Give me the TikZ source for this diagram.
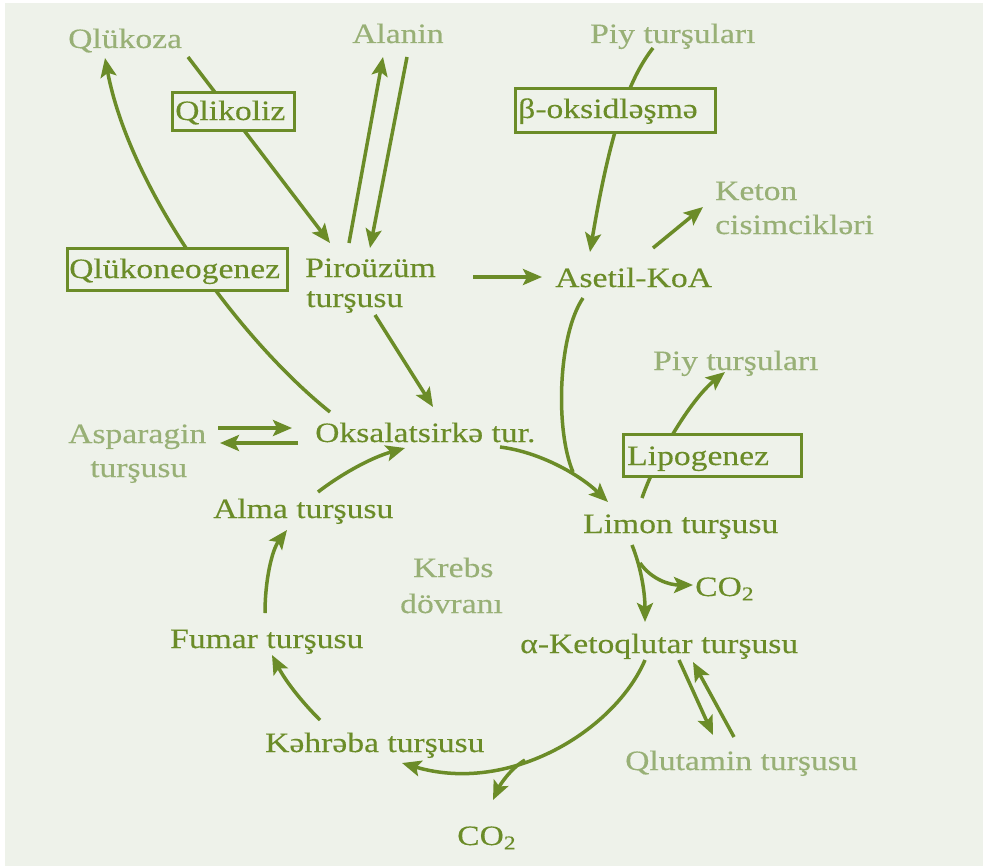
\documentclass[tikz,border=0pt]{standalone}
\usepackage{fontspec}
\setmainfont{Liberation Serif}[FakeStretch=1.2,FakeBold=0.3]
\usetikzlibrary{arrows.meta,fit}
\definecolor{bgc}{RGB}{238,242,234}
\definecolor{dk}{RGB}{107,140,40}
\definecolor{lt}{RGB}{152,176,118}
\tikzset{
 lbl/.style={anchor=base west, inner sep=0pt, font=\fontsize{28}{32}\selectfont},
 dtxt/.style={lbl, text=dk},
 ltxt/.style={lbl, text=lt},
 boxframe/.style={draw=dk, line width=3pt, fill=bgc, inner sep=0pt},
 arr/.style={draw=dk, line width=3.5pt, -{Stealth[length=19pt,width=16pt,inset=4pt]}},
 ln/.style={draw=dk, line width=3.5pt},
}
\begin{document}
\begin{tikzpicture}[x=1pt,y=-1pt]
\useasboundingbox (0,0) rectangle (990,867);
\fill[white] (0,0) rectangle (990,867);
\fill[bgc] (5,3) rectangle (983,866);

% light labels
\node[ltxt] (gluk) at (68,48) {Qlükoza};
\node[ltxt] (alan) at (352,43) {Alanin};
\node[ltxt] (piy1) at (590,43) {Piy turşuları};
\node[ltxt] (keton1) at (715,200) {Keton};
\node[ltxt] (keton2) at (715,234) {cisimcikləri};
\node[ltxt] (piy2) at (653,370) {Piy turşuları};
\node[ltxt] (asp1) at (68,443) {Asparagin};
\node[ltxt] (asp2) at (90,477) {turşusu};
\node[ltxt] (krebs1) at (413,577) {Krebs};
\node[ltxt] (krebs2) at (400,613) {dövranı};
\node[ltxt] (qlut) at (625,770) {Qlutamin turşusu};

% dark labels
\node[dtxt] (piro1) at (305,277) {Piroüzüm};
\node[dtxt] (piro2) at (306,307) {turşusu};
\node[dtxt] (asetil) at (555,287) {Asetil-KoA};
\node[dtxt] (oksa) at (315,442) {Oksalatsirkə tur.};
\node[dtxt] (limon) at (583,533) {Limon turşusu};
\node[dtxt] (co2a) at (695,596) {CO\textsubscript{2}};
\node[dtxt] (keto) at (520,653) {α-Ketoqlutar turşusu};
\node[dtxt] (alma) at (213,518) {Alma turşusu};
\node[dtxt] (fumar) at (170,648) {Fumar turşusu};
\node[dtxt] (kehr) at (265,752) {Kəhrəba turşusu};
\node[dtxt] (co2b) at (457,845) {CO\textsubscript{2}};

% connectors
\draw[arr] ([shift={(120,9)}]gluk.base west) -- ([shift={(25,-34)}]piro1.base west);
\draw[arr] ([shift={(15,-30)}]oksa.base west) .. controls +(-90,-72) and +(25,132) .. ([shift={(37,10)}]gluk.base west);
\draw[arr] ([shift={(44,-34)}]piro1.base west) -- ([shift={(31,14)}]alan.base west);
\draw[arr] ([shift={(55,14)}]alan.base west) -- ([shift={(65,-29)}]piro1.base west);
\draw[arr] ([shift={(168,0)}]piro1.base west) -- ([shift={(-13,-10)}]asetil.base west);
\draw[arr] ([shift={(63,5)}]piy1.base west) .. controls +(-21,27) and +(22,-132) .. ([shift={(35,-35)}]asetil.base west);
\draw[arr] ([shift={(98,-39)}]asetil.base west) -- ([shift={(-12,7)}]keton1.base west);
\draw[arr] ([shift={(69,8)}]piro2.base west) -- ([shift={(118,-35)}]oksa.base west);
\draw[arr] ([shift={(150,-15)}]asp1.base west) -- ([shift={(-23,-14)}]oksa.base west);
\draw[arr] ([shift={(-17,1)}]oksa.base west) -- ([shift={(152,0)}]asp1.base west);
\draw[ln] ([shift={(28,11)}]asetil.base west) .. controls +(-25,37) and +(-18,-42) .. ([shift={(-10,-61)}]limon.base west);
\draw[arr] ([shift={(185,5)}]oksa.base west) .. controls +(40,5) and +(-28,-27) .. ([shift={(25,-31)}]limon.base west);
\draw[arr] ([shift={(59,-35)}]limon.base west) .. controls +(13,-38) and +(-35,28) .. ([shift={(72,2)}]piy2.base west);
\draw[arr] ([shift={(49,12)}]limon.base west) .. controls +(10,25) and +(0,-27) .. ([shift={(125,-31)}]keto.base west);
\draw[arr] ([shift={(57,30)}]limon.base west) .. controls +(12,17) and +(-23,0) .. ([shift={(-2,-11)}]co2a.base west);
\draw[arr] ([shift={(159,7)}]keto.base west) -- ([shift={(88,-35)}]qlut.base west);
\draw[arr] ([shift={(109,-33)}]qlut.base west) -- ([shift={(173,9)}]keto.base west);
\draw[arr] ([shift={(125,7)}]keto.base west) .. controls +(-30,70) and +(108,32) .. ([shift={(137,11)}]kehr.base west);
\draw[arr] ([shift={(68,-85)}]co2b.base west) .. controls +(-15,9) and +(7,-15) .. ([shift={(36,-45)}]co2b.base west);
\draw[arr] ([shift={(55,-32)}]kehr.base west) .. controls +(-20,-20) and +(13,25) .. ([shift={(102,7)}]fumar.base west);
\draw[arr] ([shift={(95,-35)}]fumar.base west) .. controls +(0,-33) and +(-15,20) .. ([shift={(74,12)}]alma.base west);
\draw[arr] ([shift={(105,-26)}]alma.base west) .. controls +(22,-17) and +(-35,10) .. ([shift={(90,6)}]oksa.base west);

% boxed process labels
\node[boxframe, fit={(172,92) (294,130)}] (qlikbox) {};
\node[dtxt] (qlik) at (175,120) {Qlikoliz};
\node[boxframe, fit={(67,248) (287,290)}] (neobox) {};
\node[dtxt] (neo) at (69,278) {Qlükoneogenez};
\node[boxframe, fit={(515,88) (715,132)}] (betabox) {};
\node[dtxt] (beta) at (518,118) {β-oksidləşmə};
\node[boxframe, fit={(623,434) (801,476)}] (lipobox) {};
\node[dtxt] (lipo) at (627,465) {Lipogenez};
\end{tikzpicture}
\end{document}
